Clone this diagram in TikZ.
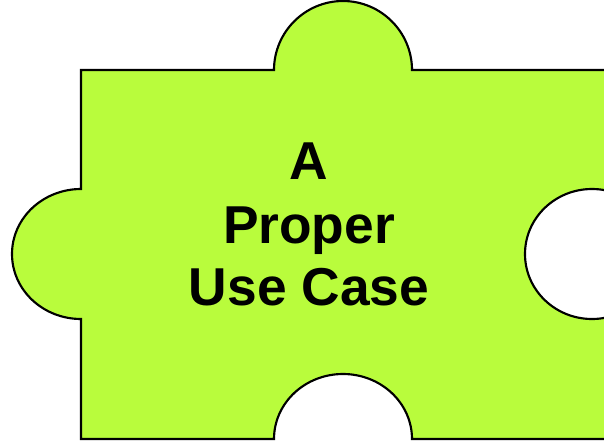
\documentclass[tikz,border=0pt]{standalone}
\usepackage{fontspec}
\setmainfont{Liberation Sans}
\definecolor{puzzle}{HTML}{B9FC3C}
\tikzset{piece/.style={fill=puzzle,draw=black,line width=1.6pt,line join=miter},
 hole/.style={fill=white,draw=black,line width=1.6pt},
 caption/.style={font=\fontsize{40}{46}\selectfont\bfseries,text=black,inner sep=0pt,anchor=base}}
\begin{document}
\begin{tikzpicture}[x=0.75pt,y=-0.75pt]
\useasboundingbox (0,0) rectangle (604,443);
\fill[white] (0,0) rectangle (604,443);
\draw[piece] (604,70) -- (412,70)
 .. controls (412,32) and (381,1) .. (343,1)
 .. controls (305,1) and (274,32) .. (274,70)
 -- (81,70) -- (81,189)
 .. controls (43,189) and (12,218) .. (12,254)
 .. controls (12,290) and (43,319) .. (81,319)
 -- (81,439) -- (274,439)
 .. controls (274,403) and (305,374) .. (343,374)
 .. controls (381,374) and (412,403) .. (412,439)
 -- (604,439);
\path[hole] (592,254) ellipse [x radius=67,y radius=65];
\node[caption] (a) at (309,179) {A};
\node[caption] (b) at (309,243) {Proper};
\node[caption] (c) at (309,305) {Use Case};
\end{tikzpicture}
\end{document}
